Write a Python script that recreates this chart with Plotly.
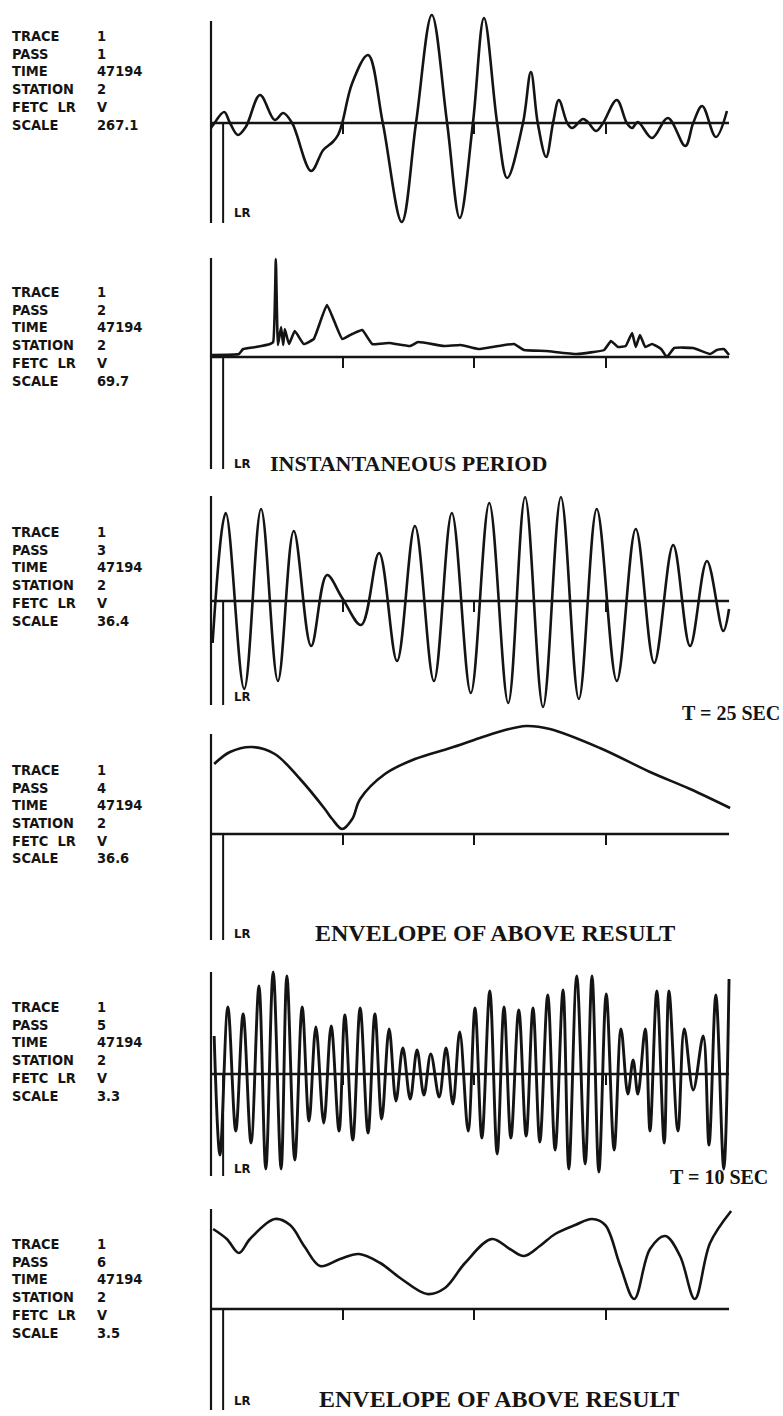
import plotly.graph_objects as go

# ---------------- data ----------------
label_names = ["TRACE", "PASS", "TIME", "STATION", "FETC\u00a0\u00a0LR", "SCALE"]
trace_vals = ["1", "1", "1", "1", "1", "1"]
pass_vals = ["1", "2", "3", "4", "5", "6"]
time_vals = ["47194"] * 6
station_vals = ["2"] * 6
comp_vals = ["V"] * 6
scale_vals = ["267.1", "69.7", "36.4", "36.6", "3.3", "3.5"]

tick_times = [25, 50, 75]
lr_time = 2.3
trace_end = 98.3

# pass 1 : raw trace
p1_t = [0.0, 0.4, 2.5, 3.6, 5.1, 6.6, 9.3, 12.1, 13.7, 15.4, 19.0, 21.3, 23.1, 24.1, 24.9,
        26.8, 29.8, 32.6, 36.2, 38.9, 41.9, 44.8, 47.2, 49.7, 51.8, 54.3, 56.2, 59.2, 60.7,
        62.0, 63.6, 64.9, 66.0, 67.6, 68.5, 70.6, 71.5, 73.1, 74.4, 77.0, 78.9, 79.9, 81.0,
        83.7, 86.7, 90.0, 91.5, 93.2, 95.8, 97.9]
p1_a = [-5, -2, 11, 0, -12, -4, 28, 3, 10, 0, -48, -27, -19, -12, 0,
        40, 68, 0, -99, 0, 108, 0, -95, 0, 105, 0, -55, 0, 51,
        0, -34, 0, 23, 0, -5, 4, 1, -8, 0, 23, 0, -5, 1,
        -15, 5, -23, 0, 17, -14, 12]

# pass 2 : instantaneous period
p2_t = [0.2, 5.3, 6.1, 8.5, 11.2, 11.8, 12.3, 12.7, 13.3, 13.7, 14.0, 14.8, 15.9, 17.6, 19.5,
        22.0, 24.9, 26.8, 28.7, 30.6, 33.8, 37.8, 39.3, 44.2, 47.4, 50.7, 54.5, 57.5, 59.4,
        63.6, 69.4, 74.6, 75.9, 77.2, 78.7, 79.9, 80.6, 81.4, 82.4, 83.7, 85.4, 86.5, 87.9,
        91.5, 94.7, 96.0, 97.3, 98.3]
p2_a = [2, 3, 8, 10, 13, 15, 98, 12, 30, 12, 28, 13, 26, 13, 18,
        52, 18, 23, 27, 13, 14, 11, 15, 11, 12, 8, 11, 13, 7,
        6, 3, 7, 16, 10, 11, 24, 10, 22, 10, 13, 8, 0, 9,
        9, 3, 7, 8, 2]

# pass 3 : filtered, T = 25 s
p3_t = [0.3, 2.8, 6.3, 9.5, 12.7, 15.7, 19.0, 22.0, 24.9, 28.5, 31.9, 35.3, 38.7, 42.3, 45.7,
        49.3, 52.8, 56.4, 59.6, 63.0, 66.4, 69.8, 73.2, 77.0, 80.6, 84.1, 87.7, 90.9, 94.1,
        97.2, 98.3]
p3_a = [-42, 88, -88, 92, -80, 70, -45, 26, 3, -24, 48, -60, 75, -80, 88,
        -92, 98, -102, 104, -106, 104, -98, 92, -80, 72, -62, 56, -45, 40,
        -30, -8]

# pass 4 : envelope of pass 3
p4_t = [0.6, 3.6, 7.8, 12.1, 16.9, 21.6, 23.0, 24.9, 26.8, 28.3, 33.0, 38.7, 45.4, 51.0, 55.8,
        59.8, 64.3, 73.8, 83.3, 90.9, 98.5]
p4_a = [70, 82, 87, 80, 55, 25, 15, 5, 15, 35, 60, 75, 86, 96, 104,
        108, 105, 86, 62, 45, 26]

# pass 5 : filtered, T = 10 s
p5_t = [0.6, 1.7, 3.2, 4.7, 6.1, 7.6, 9.1, 10.4, 11.8, 13.3, 14.4, 15.9, 17.3, 18.6, 19.9,
        21.4, 22.8, 24.3, 25.4, 26.9, 28.3, 29.8, 31.1, 32.4, 33.8, 35.1, 36.4, 37.8, 39.1,
        40.4, 41.7, 43.3, 44.6, 45.9, 47.2, 48.8, 50.1, 51.4, 52.9, 54.3, 55.6, 56.9, 58.4,
        59.8, 61.1, 62.4, 63.9, 65.3, 66.8, 67.9, 69.4, 71.0, 72.3, 73.6, 75.0, 76.5, 77.8,
        79.1, 80.1, 81.0, 82.4, 83.3, 84.6, 86.0, 86.9, 88.6, 89.8, 91.5, 93.4, 94.5, 95.8,
        97.3, 98.3]
p5_a = [38, -81, 67, -57, 60, -69, 88, -95, 102, -95, 98, -86, 67, -47, 47,
        -49, 48, -57, 59, -66, 66, -59, 60, -45, 45, -27, 26, -25, 24,
        -21, 20, -23, 26, -30, 42, -57, 66, -64, 83, -80, 67, -64, 64,
        -62, 66, -68, 79, -76, 84, -95, 98, -90, 98, -98, 80, -76, 45,
        -20, 14, -20, 45, -57, 83, -69, 83, -57, 45, -16, 38, -71, 79,
        -95, 95]

# pass 6 : envelope of pass 5
p6_t = [0.4, 3.0, 5.3, 7.4, 12.1, 15.0, 17.8, 20.7, 24.5, 28.1, 32.1, 35.9, 41.0, 44.4, 48.2,
        53.3, 56.7, 59.4, 62.4, 65.3, 69.1, 72.3, 74.8, 77.6, 80.3, 83.3, 86.2, 89.0, 91.8,
        94.7, 98.7]
p6_a = [80, 70, 56, 70, 90, 84, 62, 43, 50, 55, 46, 31, 15, 21, 46,
        70, 60, 53, 63, 75, 84, 90, 84, 44, 10, 60, 73, 53, 10,
        66, 98]

captions = ["INSTANTANEOUS PERIOD", "T = 25 SEC", "ENVELOPE OF ABOVE RESULT",
            "T = 10 SEC", "ENVELOPE OF ABOVE RESULT"]

# ---------------- layout constants ----------------
W, H = 783, 1416
X0 = 211.0          # pixel of time 0
S = 5.27            # pixels per time unit
XR = (-1.5, 100.0)
BASE = [123, 357, 601, 834, 1074, 1309]      # baseline pixel rows
AX_TOP = [102, 99, 105, 100, 102, 100]       # vertical axis line extent (amp units)
AX_BOT = [-100, -112, -104, -106, -102, -101]
LR_Y = [212, 463, 697, 933, 1168, 1400]
ROW0 = [36, 292, 532, 770, 1007, 1244]       # first header row pixel
ROW_STEP = 17.7
CAP_POS = [(268, 463, 22), (680, 713, 20), (313, 933, 24), (668, 1177, 20), (317, 1399, 24)]

INK = "#141414"
PLOT_FONT = "DejaVu Sans Condensed, Liberation Sans Narrow, DejaVu Sans, sans-serif"
SERIF = "Liberation Serif, DejaVu Serif, serif"

series = [(p1_t, p1_a, "spline", 1.0), (p2_t, p2_a, "spline", 0.35), (p3_t, p3_a, "spline", 1.0),
          (p4_t, p4_a, "spline", 1.0), (p5_t, p5_a, "spline", 1.0), (p6_t, p6_a, "spline", 1.0)]

fig = go.Figure()
layout = dict(width=W, height=H, autosize=False, margin=dict(l=0, r=0, t=0, b=0),
              paper_bgcolor="white", plot_bgcolor="white", showlegend=False)
annotations = []

for i, (tt, aa, shape, smooth) in enumerate(series):
    n = "" if i == 0 else str(i + 1)
    xref, yref = "x" + n, "y" + n
    base = BASE[i]
    ht = 120
    hb = min(120, H - base)
    ydom = [(H - (base + hb)) / H, (H - (base - ht)) / H]
    xdom = [(X0 + XR[0] * S) / W, (X0 + XR[1] * S) / W]
    layout["xaxis" + n] = dict(domain=xdom, range=list(XR), anchor="free",
                               position=(H - base) / H, showline=False, showgrid=False,
                               zeroline=False, ticks="outside", tickvals=tick_times,
                               ticklen=10, tickwidth=2, tickcolor=INK,
                               showticklabels=False, fixedrange=True)
    layout["yaxis" + n] = dict(domain=ydom, range=[-hb, ht], anchor=xref, visible=False,
                               fixedrange=True)
    # baseline
    fig.add_trace(go.Scatter(x=[0, trace_end], y=[0, 0], mode="lines", xaxis=xref, yaxis=yref,
                             line=dict(color=INK, width=2.4), hoverinfo="skip"))
    # vertical axis line
    fig.add_trace(go.Scatter(x=[0, 0], y=[AX_BOT[i], AX_TOP[i]], mode="lines", xaxis=xref,
                             yaxis=yref, line=dict(color=INK, width=2.2), hoverinfo="skip"))
    # LR marker
    fig.add_trace(go.Scatter(x=[lr_time, lr_time], y=[0, AX_BOT[i]], mode="lines", xaxis=xref,
                             yaxis=yref, line=dict(color=INK, width=2.0), hoverinfo="skip"))
    # waveform
    lw = 2.9 if i == 4 else 2.6
    line = dict(color=INK, width=lw, shape=shape, smoothing=smooth)
    fig.add_trace(go.Scatter(x=tt, y=aa, mode="lines", xaxis=xref, yaxis=yref, line=line))

    # header labels
    vals = [trace_vals[i], pass_vals[i], time_vals[i], station_vals[i], comp_vals[i], scale_vals[i]]
    for k in range(6):
        yy = (H - (ROW0[i] + ROW_STEP * k)) / H
        annotations.append(dict(text=label_names[k], x=10 / W, y=yy, xref="paper", yref="paper",
                                xanchor="left", yanchor="middle", showarrow=False,
                                font=dict(family=PLOT_FONT, size=14.5, color=INK, weight="bold")))
        annotations.append(dict(text=vals[k], x=95 / W, y=yy, xref="paper", yref="paper",
                                xanchor="left", yanchor="middle", showarrow=False,
                                font=dict(family=PLOT_FONT, size=14.5, color=INK, weight="bold")))
    annotations.append(dict(text="LR", x=232 / W, y=(H - LR_Y[i]) / H, xref="paper", yref="paper",
                            xanchor="left", yanchor="middle", showarrow=False,
                            font=dict(family=PLOT_FONT, size=13, color=INK, weight="bold")))

for txt, (cx, cy, fs) in zip(captions, CAP_POS):
    annotations.append(dict(text=txt, x=cx / W, y=(H - cy) / H, xref="paper", yref="paper",
                            xanchor="left", yanchor="middle", showarrow=False,
                            font=dict(family=SERIF, size=fs, color=INK, weight="bold")))

layout["annotations"] = annotations
fig.update_layout(**layout)
fig.write_html("out.html", config={"displayModeBar": False, "staticPlot": True},
               post_script="document.body.style.margin='0';document.body.style.padding='0';")
